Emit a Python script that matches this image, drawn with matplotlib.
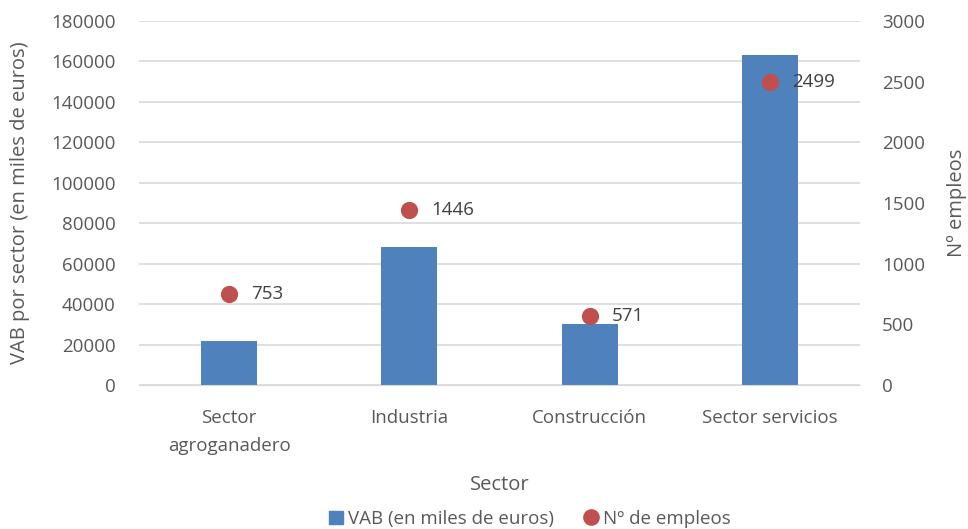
import matplotlib
matplotlib.use("Agg")
import matplotlib.pyplot as plt
from matplotlib.lines import Line2D
from matplotlib.patches import Patch

plt.rcParams['font.family'] = ['Open Sans', 'DejaVu Sans']

categories = ["Sector\nagroganadero", "Industria", "Construcción", "Sector servicios"]
vab = [21650, 68430, 30400, 163100]
empleos = [753, 1446, 571, 2499]
left_ticks = [0, 20000, 40000, 60000, 80000, 100000, 120000, 140000, 160000, 180000]
right_ticks = [0, 500, 1000, 1500, 2000, 2500, 3000]

bar_color = "#4F81BD"
dot_color = "#C0504D"
tick_color = "#595959"
label_color = "#404040"

fig = plt.figure(figsize=(9.68, 5.29), dpi=100)
ax = fig.add_axes([139/968, 1 - 385/529, (860-139)/968, (385-21)/529])
ax2 = ax.twinx()

x = list(range(len(categories)))
ax.bar(x, vab, width=0.31, color=bar_color, zorder=2)
ax.set_ylim(0, 180000)
ax.set_xlim(-0.5, len(categories) - 0.5)
ax.set_yticks(left_ticks)
ax.set_yticklabels([str(t) for t in left_ticks])
ax.grid(axis='y', color="#d9d9d9", linewidth=1.2, zorder=0)
ax.set_axisbelow(True)
ax.set_xticks(x)
ax.set_xticklabels(categories, linespacing=1.75)
for s in ax.spines.values():
    s.set_visible(False)
for s in ax2.spines.values():
    s.set_visible(False)
ax.spines['bottom'].set_visible(True)
ax.spines['bottom'].set_color("#d9d9d9")
ax.tick_params(axis='both', length=0, labelsize=13.5, colors=tick_color, pad=17)
ax.tick_params(axis='x', pad=17)

ax2.scatter(x, empleos, s=130, color=dot_color, zorder=3)
ax2.set_ylim(0, 3000)
ax2.set_yticks(right_ticks)
ax2.set_yticklabels([str(t) for t in right_ticks])
ax2.tick_params(axis='y', length=0, labelsize=13.5, colors=tick_color, pad=16)
for xi, v in zip(x, empleos):
    ax2.annotate(str(v), (xi, v), xytext=(16, 0), textcoords='offset points',
                 ha='left', va='center', fontsize=13.5, color=label_color, zorder=4)

ax.set_ylabel("VAB por sector (en miles de euros)", fontsize=14.5, color=tick_color, labelpad=15)
ax2.set_ylabel("Nº empleos", fontsize=14.5, color=tick_color, labelpad=16)
ax.set_xlabel("Sector", fontsize=14.5, color=tick_color, labelpad=14)

handles = [Patch(color=bar_color, label="VAB (en miles de euros)"),
           Line2D([], [], marker='o', linestyle='', color=dot_color, markersize=11, label="Nº de empleos")]
leg = fig.legend(handles=handles, loc='center', bbox_to_anchor=(530/968, 1 - 519/529), ncol=2,
                 frameon=False, fontsize=13.5, handlelength=0.7, handletextpad=0.3, columnspacing=1.6,
                 borderpad=0)
for t in leg.get_texts():
    t.set_color(tick_color)

fig.savefig("out.png", dpi=100)
